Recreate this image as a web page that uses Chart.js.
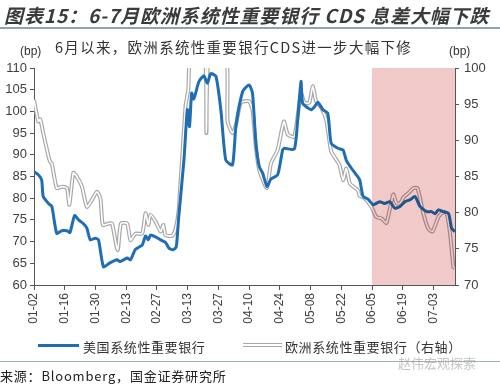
<!DOCTYPE html>
<html>
<head>
<meta charset="utf-8">
<script src="https://cdn.jsdelivr.net/npm/chart.js@4"></script>
<style>
  body { margin: 0; background: #fff; }
  #wrap { position: relative; width: 500px; height: 384px; overflow: hidden; font-family: "Noto Sans CJK SC", sans-serif; color: #333; }
  #chart { position: absolute; left: 0; top: 0; }
  .txt { position: absolute; white-space: nowrap; }
  #title { left: 4px; top: 1px; font-size: 19px; font-weight: bold; font-style: italic; color: #3b3b3b; letter-spacing: 0.9px; }
  #rule1 { position: absolute; left: 0; top: 27px; width: 500px; height: 2px; background: #8ca7aa; }
  #sub { left: 55px; top: 36px; font-size: 14.5px; color: #333; letter-spacing: 1.3px; }
  .bp { top: 44px; font-size: 12px; font-family: "Liberation Sans", Arial, sans-serif; color: #333; }
  .leg { top: 337px; font-size: 13px; letter-spacing: 0.6px; color: #333; }
  .swatch { position: absolute; }
  #rule2 { position: absolute; left: 0; top: 361px; width: 500px; height: 1px; background: #9fb3b5; }
  #src { left: 0px; top: 366px; font-size: 13px; color: #222; letter-spacing: 0.8px; }
  #wm { left: 398px; top: 353px; font-size: 13px; color: rgba(150,150,150,0.55); }
</style>
</head>
<body>
<div id="wrap">
  <canvas id="chart" width="500" height="384"></canvas>
  <div class="txt" id="title">图表15：6-7月欧洲系统性重要银行 CDS 息差大幅下跌</div>
  <div id="rule1"></div>
  <div class="txt" id="sub">6月以来，欧洲系统性重要银行CDS进一步大幅下修</div>
  <div class="txt bp" style="left:20px;">(bp)</div>
  <div class="txt bp" style="left:449px;">(bp)</div>
  <div class="swatch" style="left:38px; top:344px; width:41px; height:3px; background:#1f6db3;"></div>
  <div class="txt leg" style="left:83px;">美国系统性重要银行</div>
  <div class="swatch" style="left:243px; top:343px; width:39px; height:2px; border-top:1px solid #a8a8a8; border-bottom:1px solid #a8a8a8; background:#fff;"></div>
  <div class="txt leg" style="left:285px;">欧洲系统性重要银行（右轴）</div>
  <div id="rule2"></div>
  <div class="txt" id="wm">赵伟宏观探索</div>
  <div class="txt" id="src">来源：Bloomberg，国金证券研究所</div>
</div>
<script>
// x positions are trading-day index from 01-02, one tick label every 10 days
const tickLabels = ['01-02', '01-16', '01-30', '02-13', '02-27', '03-13', '03-27',
  '04-10', '04-24', '05-08', '05-22', '06-05', '06-19', '07-03'];
const lastIndex = 137;
const shadeStart = 110;

// US systemically important banks (left axis)
const usIdx = [0, 1.4, 2.5, 3, 4.7, 5.8, 7.4, 9, 10.7, 11.7, 13.2, 14.5, 16.1, 17.2, 18.3, 19.9, 21,
  22.6, 24.7, 27, 28, 30.3, 31.4, 33, 35.2, 36.3, 37.2, 37.9, 39.5, 41.2, 42.8, 43.9, 45.2, 46.3,
  47.1, 48.8, 49.9, 50.6, 51.3, 52, 52.6, 53.7, 55.3, 56.4, 57.5, 59.2, 60.8, 62.4, 64.6, 65.7,
  67.9, 70, 71.1, 72.2, 73.3, 74.4, 75.8, 77.1, 79.3, 80.9, 81.5, 84.7, 85.8, 86.9, 87.4, 89.1,
  90.2, 91.3, 92.4, 94, 95.6, 96.7, 98.9, 100.6, 101.6, 103.3, 104.9, 106, 107.1, 108.7, 110.4,
  112.5, 114.1, 115.8, 117.4, 119.1, 120.7, 122.3, 124, 125.6, 127.8, 129.4, 130.5, 131.6, 133.2,
  134.9, 135.9, 137];
const usVal = [86.1, 85.4, 84.2, 80.4, 78.8, 78.1, 71.9, 72.5, 72.5, 72.1, 76.0, 75.0, 74.1, 73.1, 70.4, 70.8, 70.4,
  64.2, 65.1, 65.8, 65.4, 66.2, 65.8, 68.2, 69.2, 71.3, 70.4, 71.5, 71.1, 70.4, 69.8, 68.5, 68.1, 68.8,
  75.8, 88.8, 100.4, 96.5, 104.2, 102.8, 104.2, 106.9, 108.2, 106.5, 108.7, 108.1, 100.4, 88.8, 87.7, 96.5,
  104.6, 106.1, 104.2, 92.7, 87.3, 85.8, 82.7, 84.4, 85.4, 91.1, 91.5, 91.3, 98.1, 106.9, 101.9, 100.8,
  100.4, 101.1, 102.1, 100.4, 99.6, 92.7, 91.5, 91.1, 88.8, 86.9, 85.4, 84.2, 80.4, 79.8, 78.5,
  79.2, 78.8, 79.2, 77.7, 78.1, 79.2, 79.6, 80.4, 78.1, 76.9, 76.9, 76.4, 77.3, 76.9,
  76.5, 73.1, 72.3];

// European systemically important banks (right axis)
const euIdx = [0, 1.4, 2, 2.5, 3, 4.7, 5.2, 5.8, 7.4, 9, 10.7, 11.5, 12.8, 13.9, 15.6, 17.2, 18.9, 20.5,
  21.6, 22.4, 24.3, 25.4, 27.2, 28.3, 30.3, 31.4, 33, 35.2, 36.3, 37.2, 37.9, 39.5, 41.2, 42.1, 42.8,
  45, 46.1, 47.1, 49.3, 50.2, 51, 55.5, 56.1, 57, 62.5, 63, 64.6, 65.7, 67.3, 70, 71.1, 72.2, 73.3,
  75.8, 77.1, 79.3, 81.3, 82.6, 84.7, 86.9, 88, 89.6, 90.7, 91.8, 93.5, 95.1, 96.7, 98.4, 99.4,
  100.6, 101.6, 102.7, 103.3, 105.4, 106, 107.6, 109.8, 111.4, 113.1, 114.7, 116.9, 118, 119.1,
  120.4, 121.8, 123.5, 124.8, 126.7, 128.3, 129.7, 131.6, 133.2, 134.3, 135.4, 136.5, 137];
const euVal = [95.6, 92.6, 92.9, 92.1, 91.0, 87.8, 87.1, 86.8, 83.4, 83.6, 83.4, 81.1, 85.5, 85.0, 83.6, 80.8, 81.8, 82.9,
  82.0, 78.3, 78.5, 78.5, 74.8, 78.5, 78.5, 76.2, 77.1, 77.1, 79.9, 78.3, 79.7, 78.8, 77.4, 78.3, 76.9,
  76.8, 77.8, 80.4, 94.7, 97.0, 102, 102, 91.0, 102, 102, 92.6, 91.0, 92.1, 95.2, 95.4, 94.2, 89.1, 85.9,
  83.4, 86.8, 88.7, 92.6, 90.8, 90.5, 96.5, 95.2, 95.2, 97.5, 95.4, 94.5, 92.8, 88.5, 87.3, 86.6,
  84.5, 86.1, 84.1, 83.8, 83.1, 82.3, 82.0, 80.8, 79.4, 79.2, 78.6, 82.5, 81.3, 81.3,
  82.2, 82.7, 83.4, 83.4, 79.9, 77.8, 77.4, 79.4, 80.1, 79.9, 77.1, 72.5, 72.3];

const toPoints = (idx, vals) => idx.map((x, i) => ({ x, y: vals[i] }));
const AXIS_COLOR = '#555';
const tickFont = { family: '"Liberation Sans", Arial, sans-serif', size: 13 };

// pink band from 06-05 to the end, multiplied over the lines
const shadePlugin = {
  id: 'shade',
  afterDatasetsDraw(chart) {
    const { ctx, chartArea, scales } = chart;
    const x0 = scales.x.getPixelForValue(shadeStart);
    ctx.save();
    ctx.globalCompositeOperation = 'multiply';
    ctx.fillStyle = '#f2c9c9';
    ctx.fillRect(x0, chartArea.top, chartArea.right - x0, chartArea.bottom - chartArea.top);
    ctx.restore();
  }
};

new Chart(document.getElementById('chart'), {
  type: 'line',
  data: {
    datasets: [
      {
        label: '美国系统性重要银行',
        data: toPoints(usIdx, usVal),
        yAxisID: 'y',
        borderColor: '#1f6db3',
        borderWidth: 3,
        pointRadius: 0,
        tension: 0.2,
        order: 0
      },
      {
        label: 'eu-inner',
        data: toPoints(euIdx, euVal),
        yAxisID: 'y1',
        borderColor: '#ffffff',
        borderWidth: 1.6,
        pointRadius: 0,
        tension: 0.2,
        order: 1
      },
      {
        label: '欧洲系统性重要银行（右轴）',
        data: toPoints(euIdx, euVal),
        yAxisID: 'y1',
        borderColor: '#a8a8a8',
        borderWidth: 4,
        pointRadius: 0,
        tension: 0.2,
        order: 2
      }
    ]
  },
  options: {
    responsive: false,
    animation: false,
    layout: { padding: { top: 68, left: 0, right: 0, bottom: 0 } },
    plugins: {
      legend: { display: false },
      tooltip: { enabled: false }
    },
    scales: {
      x: {
        type: 'linear',
        min: 0,
        max: lastIndex,
        afterBuildTicks: (s) => { s.ticks = s.ticks.filter(t => t.value % 10 === 0 && t.value <= 130); },
        afterFit: (s) => { s.height = 99; },
        ticks: {
          stepSize: 10,
          minRotation: 90,
          maxRotation: 90,
          padding: 3,
          color: '#404040',
          font: { family: tickFont.family, size: 12 },
          callback: (v) => tickLabels[v / 10] || ''
        },
        grid: { drawOnChartArea: false, drawTicks: true, tickLength: 5, color: AXIS_COLOR },
        border: { color: AXIS_COLOR }
      },
      y: {
        position: 'left',
        min: 60,
        max: 110,
        afterFit: (s) => { s.width = 34; },
        ticks: { stepSize: 5, padding: 3, color: '#404040', font: tickFont },
        grid: { drawOnChartArea: false, drawTicks: true, tickLength: 4, color: AXIS_COLOR },
        border: { color: AXIS_COLOR }
      },
      y1: {
        position: 'right',
        min: 70,
        max: 100,
        afterFit: (s) => { s.width = 45; },
        ticks: { stepSize: 5, padding: 5, color: '#404040', font: tickFont },
        grid: { drawOnChartArea: false, drawTicks: true, tickLength: 4, color: AXIS_COLOR },
        border: { color: AXIS_COLOR }
      }
    }
  },
  plugins: [shadePlugin]
});
</script>
</body>
</html>
